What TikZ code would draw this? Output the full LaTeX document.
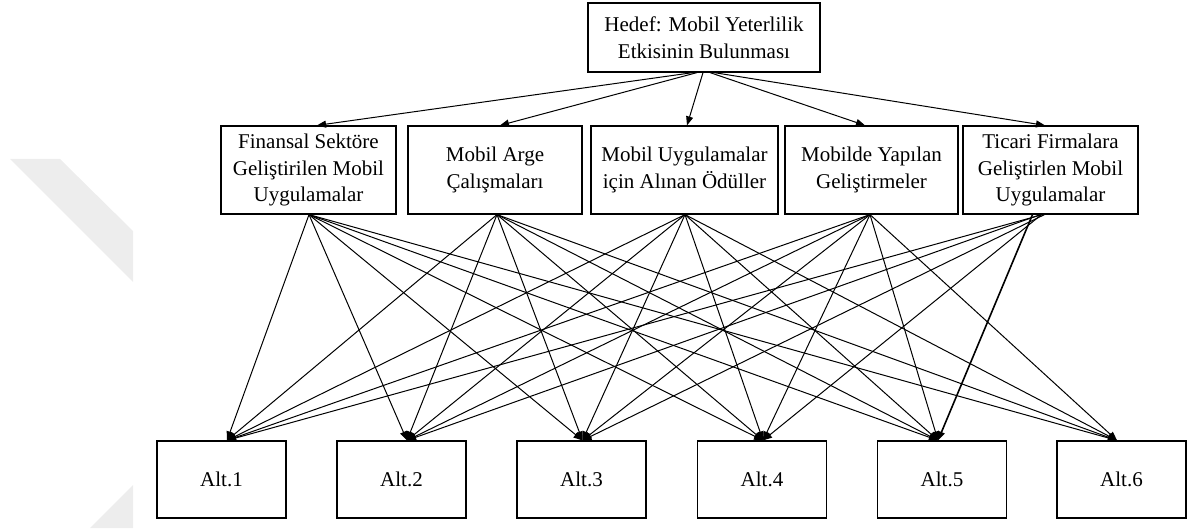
\documentclass[tikz,border=0pt]{standalone}
\usepackage{fontspec}
\setmainfont{Liberation Serif}
\usetikzlibrary{arrows.meta}
\begin{document}
\begin{tikzpicture}[x=1pt,y=-1pt,
  box/.style={draw, line width=1.2pt, align=center, inner sep=0pt,
    font=\fontsize{21}{26.5}\selectfont},
  crit/.style={box, minimum height=88pt},
  alt/.style={box, minimum width=129pt, minimum height=77pt},
  link/.style={line width=1pt, -{Triangle[length=9pt,width=7pt]}}]
\useasboundingbox (0,0) rectangle (1202,532);
% watermark
\fill[black!7] (10,159) -- (60,159) -- (133,231) -- (133,282) -- cycle;
\fill[black!7] (90,528) -- (133,485) -- (133,528) -- cycle;
% goal
\node[box, minimum width=232pt, minimum height=69pt] (goal) at (704,37.5)
  {Hedef: Mobil Yeterlilik\\Etkisinin Bulunması};
% criteria
\node[crit, minimum width=175pt] (c1) at (308.5,170)
  {Finansal Sektöre\\Geliştirilen Mobil\\Uygulamalar};
\node[crit, minimum width=174pt] (c2) at (495,170)
  {Mobil Arge\\Çalışmaları};
\node[crit, minimum width=187pt] (c3) at (684.5,170)
  {Mobil Uygulamalar\\için Alınan Ödüller};
\node[crit, minimum width=173pt] (c4) at (871.5,170)
  {Mobilde Yapılan\\Geliştirmeler};
\node[crit, minimum width=175pt] (c5) at (1050.5,170)
  {Ticari Firmalara\\Geliştirlen Mobil\\Uygulamalar};
% alternatives
\node[alt] (a1) at (221.5,479.5) {Alt.1};
\node[alt] (a2) at (401.5,479.5) {Alt.2};
\node[alt] (a3) at (581.5,479.5) {Alt.3};
\node[alt] (a4) at (762,479.5) {Alt.4};
\node[alt] (a5) at (942,479.5) {Alt.5};
\node[alt] (a6) at (1121.5,479.5) {Alt.6};
% goal -> criteria
\draw[link] ([xshift=-11pt]goal.south) -- ([xshift=8.5pt]c1.north);
\draw[link] ([xshift=-7pt]goal.south) -- ([xshift=5pt]c2.north);
\draw[link] ([xshift=-1pt]goal.south) -- ([xshift=2.5pt]c3.north);
\draw[link] ([xshift=6pt]goal.south) -- ([xshift=-6.5pt]c4.north);
\draw[link] ([xshift=10pt]goal.south) -- ([xshift=-5.5pt]c5.north);
% criteria -> alternatives
\foreach \s/\sx in {c1/0.5, c2/2, c3/0.5, c4/-1.5}
  \foreach \t/\tx in {a1/5.5, a2/5.5, a3/1, a4/1, a5/-4, a6/-4.5}
    \draw[link] ([xshift=\sx pt]\s.south) -- ([xshift=\tx pt]\t.north);
\foreach \t/\tx/\sx in {a1/5.5/-8, a2/5.5/-10, a3/1/-6, a4/1/-9}
  \draw[link] ([xshift=\sx pt]c5.south) -- ([xshift=\tx pt]\t.north);
\draw[link, line width=1.6pt] ([xshift=-18pt]c5.south) -- ([xshift=-4pt]a5.north);
\end{tikzpicture}
\end{document}
